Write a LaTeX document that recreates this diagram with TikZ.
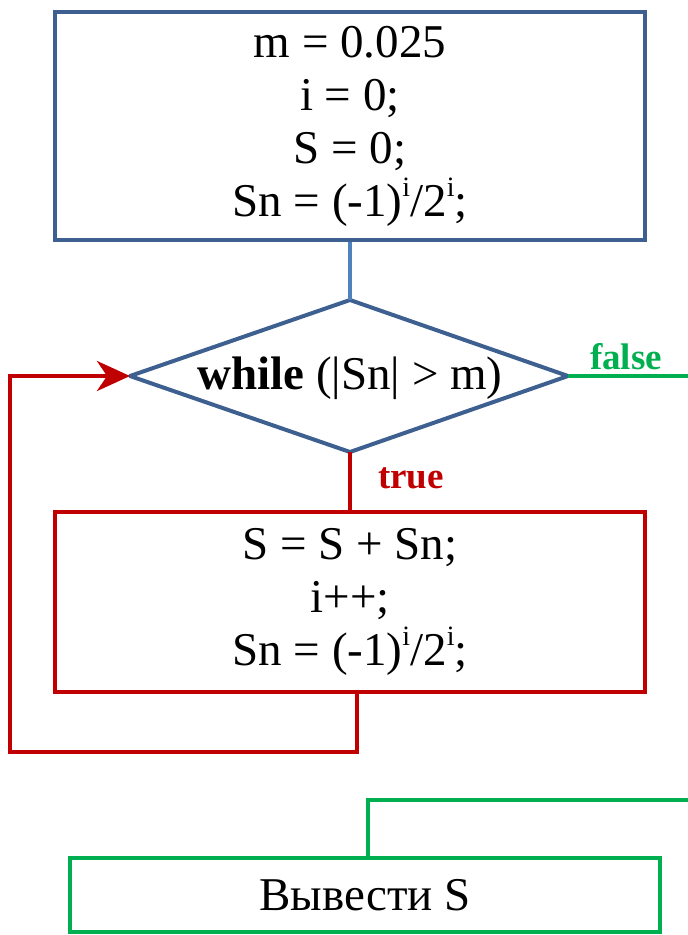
\documentclass[tikz,border=0pt]{standalone}
\usepackage{fontspec}
\setmainfont{Liberation Serif}
\usetikzlibrary{arrows.meta}
\definecolor{boxblue}{RGB}{61,96,144}
\definecolor{lineblue}{RGB}{79,129,189}
\definecolor{loopred}{RGB}{192,0,0}
\definecolor{okgreen}{RGB}{0,176,80}
\newcommand\supi{\raisebox{0.42em}{\fontsize{28}{28}\selectfont i}}
\begin{document}
\begin{tikzpicture}[x=1pt,y=-1pt,
  blk/.style={draw, line width=4pt, rectangle, align=center, inner sep=0pt,
    minimum width=590pt, font=\fontsize{47}{53}\selectfont},
  conn/.style={line width=4pt},
  lbl/.style={font=\bfseries\fontsize{37}{40}\selectfont, inner sep=0pt}]
\useasboundingbox (0,0) rectangle (688,935);
% blocks
\node[blk, draw=boxblue, minimum height=228pt] (init) at (350,126)
  {m = 0.025\\ i = 0;\\ S = 0;\\ Sn = (-1)\supi/2\supi;};
\node[blk, draw=loopred, minimum height=180pt] (body) at (350,602)
  {S = S + Sn;\\ i++;\\ Sn = (-1)\supi/2\supi;};
\node[blk, draw=okgreen, minimum height=74pt] (out) at (365,895) {Вывести S};
% decision diamond
\coordinate (dt) at (350,300);
\coordinate (db) at (350,452);
\coordinate (dl) at (130,376);
\coordinate (dr) at (568,376);
\draw[boxblue, line width=4pt, line join=round] (dt) -- (dr) -- (db) -- (dl) -- cycle;
\node[font=\fontsize{47}{53}\selectfont, inner sep=0pt] (cond) at (350,378)
  {\textbf{while} (|Sn| > m)};
% labels
\node[lbl, text=okgreen] (lf) at (626,357) {false};
\node[lbl, text=loopred] (lt) at (411,478) {true};
% helper coordinates
\coordinate (l1) at (357,752);
\coordinate (l2) at (10,752);
\coordinate (fe1) at (690,376);
\coordinate (fe2) at (690,800);
\coordinate (g1) at (368,800);
% connectors
\draw[conn, lineblue] (init.south) -- (dt);
\draw[conn, loopred] (db) -- (body.north);
\draw[conn, loopred, -{Stealth[length=33pt,width=30pt,inset=10pt]}]
  ([xshift=7pt]body.south) -- (l1) -- (l2) |- (dl);
\draw[conn, okgreen] (dr) -- (fe1);
\draw[conn, okgreen] (fe2) -- (g1) -- ([xshift=3pt]out.north);
\end{tikzpicture}
\end{document}
